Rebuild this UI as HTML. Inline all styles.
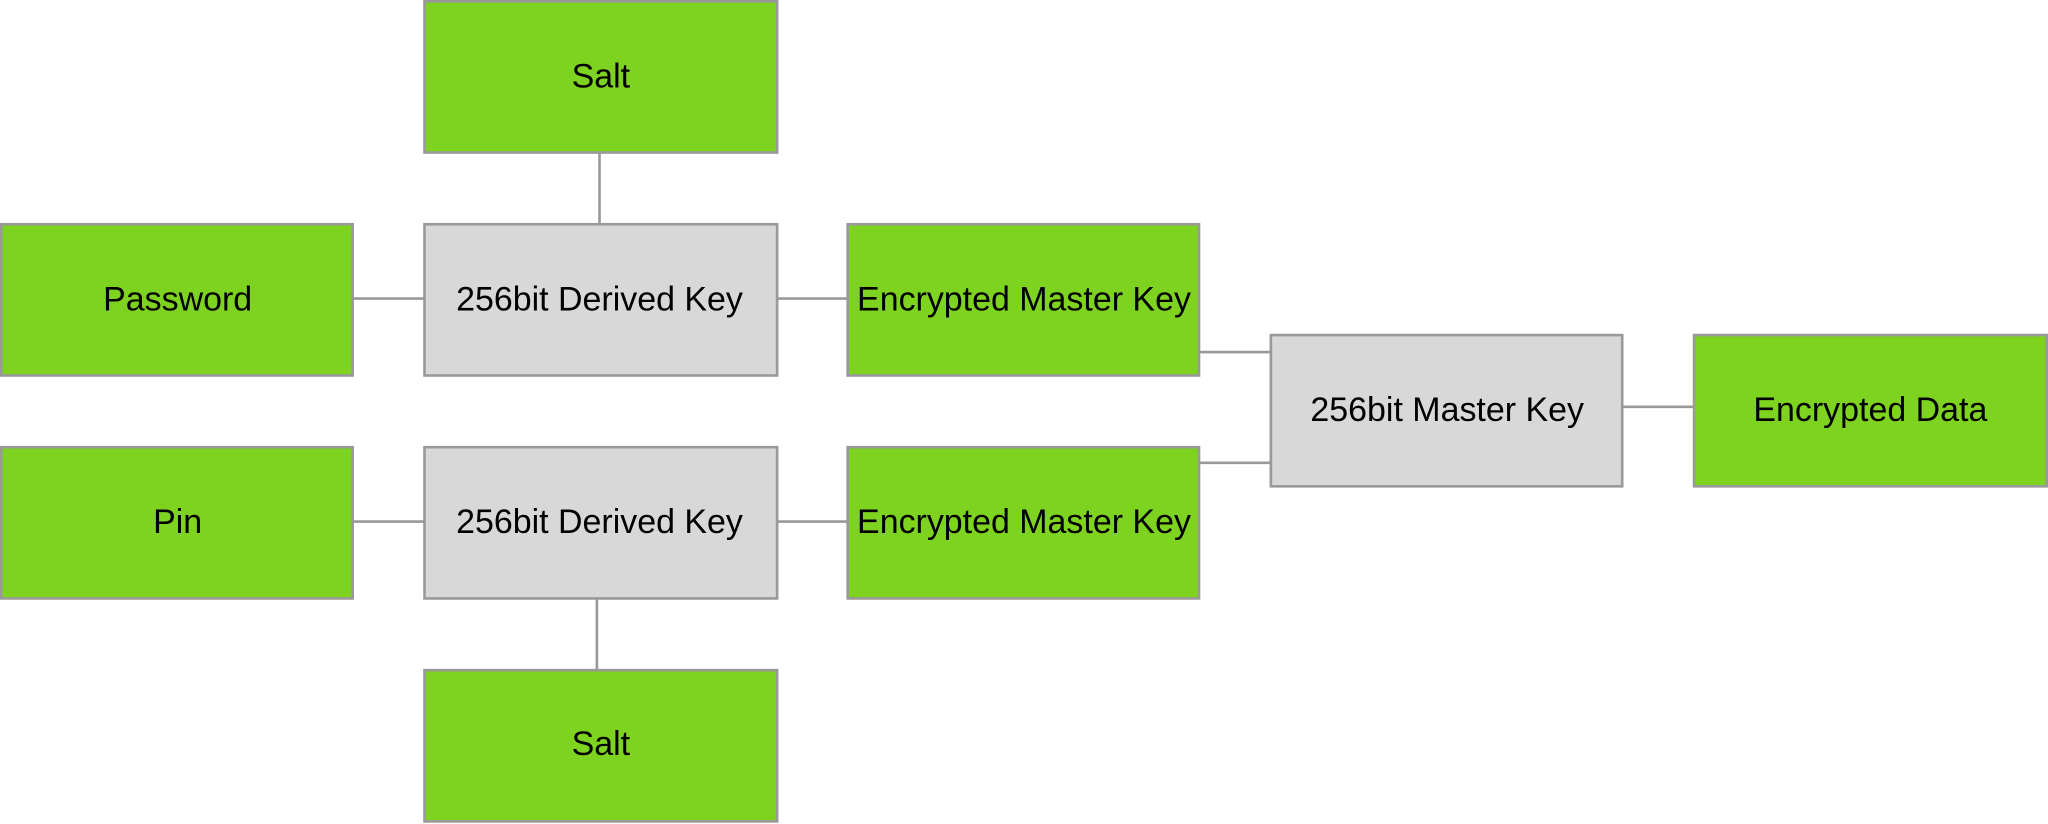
<!DOCTYPE html>
<html><head><meta charset="utf-8"><style>html,body{margin:0;padding:0;background:#fff;width:2048px;height:824px;overflow:hidden}</style></head>
<body>
<svg width="2048" height="824" viewBox="0 0 1568 632" preserveAspectRatio="none" xmlns="http://www.w3.org/2000/svg" font-family="Liberation Sans, Arial, sans-serif" font-size="26">
<g stroke="#999" stroke-width="2">
<line x1="459" y1="117" x2="459" y2="172"/>
<line x1="270" y1="229" x2="325" y2="229"/>
<line x1="595" y1="229" x2="649" y2="229"/>
<line x1="270" y1="400" x2="325" y2="400"/>
<line x1="595" y1="400" x2="649" y2="400"/>
<line x1="457" y1="456" x2="457" y2="514"/>
<line x1="918" y1="270" x2="973" y2="270"/>
<line x1="918" y1="355" x2="977" y2="355"/>
<line x1="1242" y1="312" x2="1297" y2="312"/>
</g>
<g stroke="#999" stroke-width="2">
<rect x="325" y="1" width="270" height="116" fill="#7ed321"/>
<rect x="1" y="172" width="269" height="116" fill="#7ed321"/>
<rect x="325" y="172" width="270" height="116" fill="#d8d8d8"/>
<rect x="649" y="172" width="269" height="116" fill="#7ed321"/>
<rect x="973" y="257" width="269" height="116" fill="#d8d8d8"/>
<rect x="1297" y="257" width="270" height="116" fill="#7ed321"/>
<rect x="1" y="343" width="269" height="116" fill="#7ed321"/>
<rect x="325" y="343" width="270" height="116" fill="#d8d8d8"/>
<rect x="649" y="343" width="269" height="116" fill="#7ed321"/>
<rect x="325" y="514" width="270" height="116" fill="#7ed321"/>
</g>
<g fill="#000" text-anchor="middle">
<text x="460" y="67">Salt</text>
<text x="136" y="238">Password</text>
<text x="459" y="238">256bit Derived Key</text>
<text x="784" y="238">Encrypted Master Key</text>
<text x="1108" y="323">256bit Master Key</text>
<text x="1432" y="323">Encrypted Data</text>
<text x="136" y="409">Pin</text>
<text x="459" y="409">256bit Derived Key</text>
<text x="784" y="409">Encrypted Master Key</text>
<text x="460" y="579">Salt</text>
</g>
</svg>
</body></html>
